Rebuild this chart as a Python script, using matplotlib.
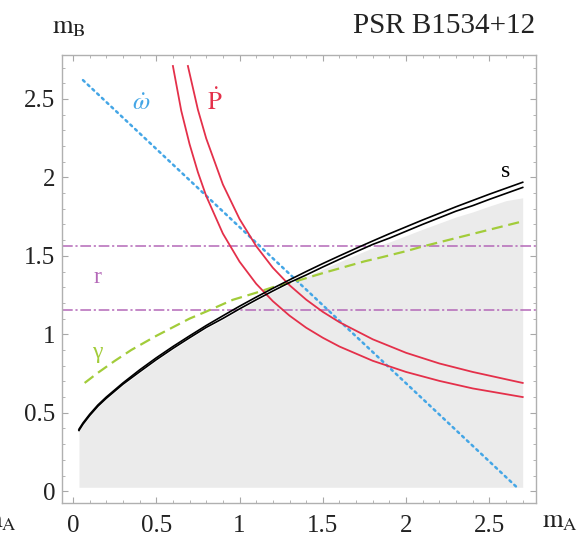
import matplotlib
matplotlib.use('Agg')
import matplotlib.pyplot as plt
from matplotlib.ticker import MultipleLocator, FuncFormatter

plt.rcParams['font.family'] = ['Liberation Serif', 'DejaVu Serif']
plt.rcParams['mathtext.fontset'] = 'stix'

# curves (m_A, m_B)
s_x = [0.036, 0.06, 0.1, 0.15, 0.2, 0.3, 0.4, 0.5, 0.6, 0.7, 0.8, 0.9, 1.0, 1.1, 1.2,
       1.3, 1.4, 1.5, 1.6, 1.7, 1.8, 1.9, 2.0, 2.1, 2.2, 2.3, 2.4, 2.5, 2.6, 2.7]
s_upper = [0.395, 0.435, 0.49, 0.55, 0.60, 0.69, 0.773, 0.85, 0.922, 0.99, 1.056, 1.118,
           1.179, 1.237, 1.293, 1.347, 1.40, 1.451, 1.50, 1.548, 1.595, 1.641, 1.685,
           1.729, 1.771, 1.813, 1.853, 1.893, 1.931, 1.969]
s_lower = [0.387, 0.427, 0.482, 0.542, 0.592, 0.682, 0.761, 0.838, 0.910, 0.978, 1.044,
           1.101, 1.162, 1.220, 1.276, 1.330, 1.378, 1.429, 1.478, 1.526, 1.573, 1.613,
           1.657, 1.701, 1.743, 1.785, 1.820, 1.860, 1.898, 1.936]
shade_top = [0.38, 0.42, 0.475, 0.535, 0.585, 0.675, 0.754, 0.831, 0.903, 0.971, 1.037,
             1.094, 1.155, 1.213, 1.269, 1.322, 1.368, 1.416, 1.462, 1.507, 1.551, 1.588,
             1.629, 1.670, 1.709, 1.748, 1.780, 1.817, 1.852, 1.87]

gamma_x = [0.07, 0.15, 0.25, 0.35, 0.5, 0.6, 0.7, 0.8, 0.96, 1.1, 1.2, 1.36, 1.5, 1.6,
           1.75, 1.85, 2.0, 2.1, 2.25, 2.4, 2.55, 2.7]
gamma_y = [0.69, 0.755, 0.83, 0.90, 0.99, 1.045, 1.10, 1.145, 1.22, 1.265, 1.30, 1.345,
           1.39, 1.42, 1.465, 1.49, 1.53, 1.56, 1.60, 1.64, 1.68, 1.72]

omega_x = [0.06, 2.66]
omega_y = [2.62, 0.03]

r_levels = [1.157, 1.562]

pdot1_x = [0.60, 0.65, 0.70, 0.75, 0.80, 0.90, 1.0, 1.1, 1.2, 1.3, 1.4, 1.5, 1.6, 1.8,
           2.0, 2.2, 2.4, 2.7]
pdot1_y = [2.71, 2.425, 2.212, 2.033, 1.881, 1.642, 1.463, 1.322, 1.211, 1.119, 1.042,
           0.978, 0.922, 0.831, 0.760, 0.703, 0.655, 0.60]
pdot2_x = [0.69, 0.75, 0.80, 0.90, 1.0, 1.1, 1.2, 1.3, 1.4, 1.5, 1.6, 1.8, 2.0, 2.2,
           2.4, 2.7]
pdot2_y = [2.71, 2.432, 2.248, 1.955, 1.735, 1.562, 1.424, 1.313, 1.221, 1.143, 1.077,
           0.968, 0.882, 0.814, 0.76, 0.69]

fig = plt.figure(figsize=(5.88, 5.42), dpi=100)
ax = fig.add_axes([0.1054, 0.0720, 0.8062, 0.8265])

# allowed region
ax.fill_between(s_x, 0.025, shade_top, color='#ebebeb', lw=0, zorder=0)

ax.plot(omega_x, omega_y, color='#44a6e6', lw=1.8, linestyle=(0, (0.9, 1.7)),
        dash_capstyle='round', zorder=3)
ax.plot(gamma_x, gamma_y, color='#a2cc3a', lw=1.6, dashes=(5, 2.6), zorder=3)
for r in r_levels:
    ax.axhline(r, color='#b468b8', lw=1.1, dashes=(7, 1.8, 1.4, 1.8), zorder=2)
ax.plot(pdot1_x, pdot1_y, color='#e4304a', lw=1.3, zorder=4)
ax.plot(pdot2_x, pdot2_y, color='#e4304a', lw=1.3, zorder=4)
ax.plot(s_x, s_upper, color='black', lw=1.2, zorder=5)
ax.plot(s_x, s_lower, color='black', lw=1.2, zorder=5)

# curve labels
ax.text(0.41, 2.43, r'$\dot{\omega}$', color='#44a6e6', fontsize=18, ha='center', va='baseline')
ax.text(0.85, 2.43, r'$\dot{\mathrm{P}}$', color='#e4304a', fontsize=18, ha='center', va='baseline')
ax.text(2.60, 2.04, 's', color='black', fontsize=17, ha='center', va='center')
ax.text(0.145, 1.325, 'r', color='#b468b8', fontsize=17, ha='center', va='baseline')
ax.text(0.145, 0.885, 'γ', color='#a2cc3a', fontsize=17, ha='center', va='center')

ax.set_xlim(-0.066, 2.78)
ax.set_ylim(-0.075, 2.78)
ax.xaxis.set_major_locator(MultipleLocator(0.5))
ax.yaxis.set_major_locator(MultipleLocator(0.5))
ax.xaxis.set_minor_locator(MultipleLocator(0.1))
ax.yaxis.set_minor_locator(MultipleLocator(0.1))
ax.xaxis.set_major_formatter(FuncFormatter(lambda v, p: f'{v:g}'))
ax.yaxis.set_major_formatter(FuncFormatter(lambda v, p: f'{v:g}'))
ax.tick_params(which='both', direction='in', top=True, right=True,
               color='#a8a8a8', labelsize=18, labelcolor='#222222')
ax.tick_params(which='major', length=4, width=0.8)
ax.tick_params(which='minor', length=2.5, width=0.6)
ax.tick_params(axis='x', pad=9)
ax.tick_params(axis='y', pad=5)
for sp in ax.spines.values():
    sp.set_color('#b0b0b0')
    sp.set_linewidth(1.0)

fig.text(535 / 588, 1 - 33 / 542, 'PSR B1534+12', fontsize=21, ha='right',
         va='baseline', color='#222222')
fig.text(52 / 588, 1 - 33 / 542, r'$\mathrm{m}_\mathrm{B}$', fontsize=19,
         ha='left', va='baseline', color='#222222')
fig.text(542 / 588, 1 - 527 / 542, r'$\mathrm{m}_\mathrm{A}$', fontsize=19,
         ha='left', va='baseline', color='#222222')
# partly clipped axis label at the left edge, as in the source image
fig.text(17 / 588, 1 - 527 / 542, r'$\mathrm{m}_\mathrm{A}$', fontsize=19,
         ha='right', va='baseline', color='#222222')

fig.savefig('out.png', dpi=100)
